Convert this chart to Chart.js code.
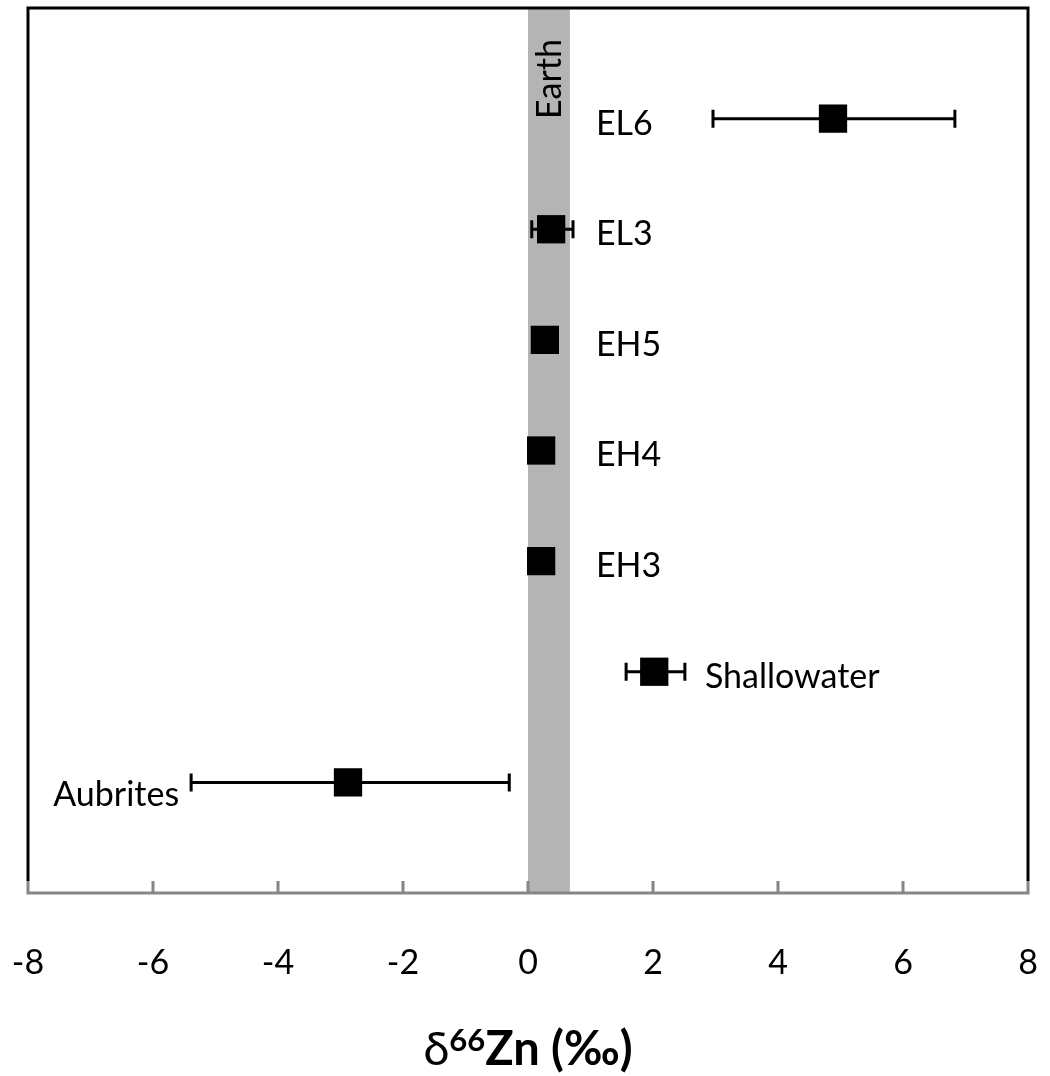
<!DOCTYPE html>
<html>
<head>
<meta charset="utf-8">
<script src="https://cdn.jsdelivr.net/npm/chart.js@4.4.1/dist/chart.umd.min.js"></script>
<style>
  html, body { margin: 0; padding: 0; background: #ffffff; }
  #wrap { width: 1050px; height: 1076px; }
</style>
</head>
<body>
<div id="wrap"><canvas id="chart" width="1050" height="1076"></canvas></div>
<script>
// Zn isotope composition of enstatite meteorites (δ66Zn, ‰) with ranges
const meteorites = ['EL6', 'EL3', 'EH5', 'EH4', 'EH3', 'Shallowater', 'Aubrites'];
const delta66Zn  = [4.88, 0.37, 0.27, 0.21, 0.21, 2.02, -2.88];
const rangeLow   = [2.96, 0.06, null, null, null, 1.57, -5.39];
const rangeHigh  = [6.83, 0.72, null, null, null, 2.51, -0.30];
const rowIndex   = [7, 6, 5, 4, 3, 2, 1];
const xTicks     = [-8, -6, -4, -2, 0, 2, 4, 6, 8];
const earthRange = [0, 0.67];
const earthLabel = 'Earth';

const FONT = 'Lato, "Liberation Sans", sans-serif';

// where each name sits relative to its point
const labelPlacement = {
  EL6: 'column', EL3: 'column', EH5: 'column', EH4: 'column', EH3: 'column',
  Shallowater: 'right', Aubrites: 'left'
};

const points = delta66Zn.map((v, i) => ({ x: v, y: rowIndex[i] }));

const decorations = {
  id: 'decorations',
  beforeDatasetsDraw(chart) {
    const { ctx, chartArea: a, scales: { x, y } } = chart;
    ctx.save();
    // Earth band
    const bx0 = x.getPixelForValue(earthRange[0]);
    const bx1 = x.getPixelForValue(earthRange[1]);
    ctx.fillStyle = '#b4b4b4';
    ctx.fillRect(bx0, a.top, bx1 - bx0, a.bottom - a.top);

    // frame: top, left, right in black
    ctx.strokeStyle = '#000000';
    ctx.lineWidth = 3;
    ctx.beginPath();
    ctx.moveTo(a.left, a.bottom - 12);
    ctx.lineTo(a.left, a.top);
    ctx.lineTo(a.right, a.top);
    ctx.lineTo(a.right, a.bottom - 12);
    ctx.stroke();

    // bottom axis with inward ticks
    ctx.strokeStyle = '#868686';
    ctx.beginPath();
    ctx.moveTo(a.left - 1.5, a.bottom);
    ctx.lineTo(a.right + 1.5, a.bottom);
    xTicks.forEach(t => {
      const px = x.getPixelForValue(t);
      ctx.moveTo(px, a.bottom);
      ctx.lineTo(px, a.bottom - 12);
    });
    ctx.stroke();

    // range bars
    ctx.strokeStyle = '#000000';
    ctx.lineWidth = 3;
    meteorites.forEach((m, i) => {
      if (rangeLow[i] == null) return;
      const py = y.getPixelForValue(rowIndex[i]);
      const p0 = x.getPixelForValue(rangeLow[i]);
      const p1 = x.getPixelForValue(rangeHigh[i]);
      ctx.beginPath();
      ctx.moveTo(p0, py); ctx.lineTo(p1, py);
      ctx.moveTo(p0, py - 9); ctx.lineTo(p0, py + 9);
      ctx.moveTo(p1, py - 9); ctx.lineTo(p1, py + 9);
      ctx.stroke();
    });
    ctx.restore();
  },
  afterDatasetsDraw(chart) {
    const { ctx, chartArea: a, scales: { x, y } } = chart;
    ctx.save();
    ctx.fillStyle = '#000000';
    ctx.font = '34px ' + FONT;
    ctx.textBaseline = 'middle';
    const columnX = x.getPixelForValue(earthRange[1]) + 26;
    meteorites.forEach((m, i) => {
      const py = y.getPixelForValue(rowIndex[i]) + 5;
      const place = labelPlacement[m];
      if (place === 'column') {
        ctx.textAlign = 'left';
        ctx.fillText(m, columnX, py);
      } else if (place === 'right') {
        ctx.textAlign = 'left';
        ctx.fillText(m, x.getPixelForValue(rangeHigh[i]) + 20, py);
      } else {
        ctx.textAlign = 'right';
        ctx.fillText(m, x.getPixelForValue(rangeLow[i]) - 12, py + 8);
      }
    });

    // vertical band label
    const bx = (x.getPixelForValue(earthRange[0]) + x.getPixelForValue(earthRange[1])) / 2;
    ctx.save();
    ctx.translate(bx + 1, a.top + 71);
    ctx.rotate(-Math.PI / 2);
    ctx.textAlign = 'center';
    ctx.textBaseline = 'middle';
    ctx.font = '34px ' + FONT;
    ctx.fillText(earthLabel, 0, 0);
    ctx.restore();

    // axis title: δ66Zn (‰)
    const parts = [
      { t: 'δ', f: '47px ' + FONT, dy: 0 },
      { t: '66', f: 'bold 31px ' + FONT, dy: -14 },
      { t: 'Zn (‰)', f: 'bold 47px ' + FONT, dy: 0 }
    ];
    let total = 0;
    parts.forEach(p => { ctx.font = p.f; p.w = ctx.measureText(p.t).width; total += p.w; });
    let cx = x.getPixelForValue(0) - total / 2;
    const base = 1065;
    ctx.textAlign = 'left';
    ctx.textBaseline = 'alphabetic';
    parts.forEach(p => {
      ctx.font = p.f;
      ctx.fillText(p.t, cx, base + p.dy);
      cx += p.w;
    });
    ctx.restore();
  }
};

new Chart(document.getElementById('chart'), {
  type: 'scatter',
  data: {
    datasets: [{
      data: points,
      pointStyle: 'rect',
      pointRadius: 20,
      pointHoverRadius: 20,
      backgroundColor: '#000000',
      borderColor: '#000000',
      borderWidth: 0
    }]
  },
  options: {
    responsive: false,
    animation: false,
    devicePixelRatio: 1,
    layout: { autoPadding: false, padding: { left: 28, right: 22, top: 8, bottom: 0 } },
    plugins: { legend: { display: false }, tooltip: { enabled: false } },
    scales: {
      x: {
        type: 'linear',
        min: -8, max: 8,
        afterBuildTicks(scale) { scale.ticks = xTicks.map(v => ({ value: v })); },
        afterFit(scale) {
          scale.height = 183;
          scale.paddingLeft = 0;
          scale.paddingRight = 0;
        },
        grid: { display: false, drawTicks: false },
        border: { display: false },
        ticks: {
          color: '#000000',
          font: { family: FONT, size: 34 },
          padding: 50,
          maxRotation: 0
        }
      },
      y: {
        type: 'linear',
        min: 0, max: 8,
        display: false
      }
    }
  },
  plugins: [decorations]
});
</script>
</body>
</html>
